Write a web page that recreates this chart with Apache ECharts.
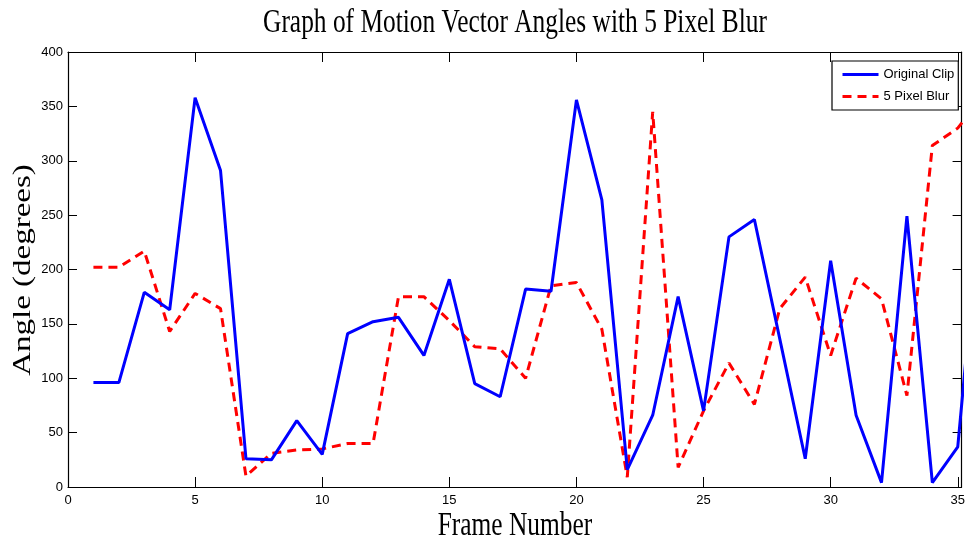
<!DOCTYPE html>
<html>
<head>
<meta charset="utf-8">
<title>Graph of Motion Vector Angles with 5 Pixel Blur</title>
<script src="https://cdn.jsdelivr.net/npm/echarts@6/dist/echarts.min.js"></script>
<style>
  html, body { margin: 0; padding: 0; background: #ffffff; }
  #chart { width: 968px; height: 548px; }
</style>
</head>
<body>
<div id="chart"></div>
<script>
// Frame numbers and the measured motion vector angle (degrees) per frame
const frames = [1, 2, 3, 4, 5, 6, 7, 8, 9, 10, 11, 12, 13, 14, 15, 16, 17, 18,
                19, 20, 21, 22, 23, 24, 25, 26, 27, 28, 29, 30, 31, 32, 33, 34, 35, 36];
const originalClip = [96, 96, 179, 163, 358, 291, 26, 25, 61, 30, 141, 152, 156, 121, 191, 95, 83, 182,
                      180, 356, 264, 16, 66, 175, 70, 230, 246, 136, 26, 208, 66, 4, 249, 4, 37, 290];
const pixelBlur5 = [202, 202, 217, 143, 178, 164, 10, 31, 34, 35, 40, 40, 175, 175, 153, 129, 127, 100,
                    185, 188, 145, 9, 345, 18, 70, 114, 76, 164, 193, 121, 192, 173, 84, 314, 330, 360];
const seriesNames = ['Original Clip', '5 Pixel Blur'];
const xTickValues = [0, 5, 10, 15, 20, 25, 30, 35];
const yTickValues = [0, 50, 100, 150, 200, 250, 300, 350, 400];

const titleText = 'Graph of Motion Vector Angles with 5 Pixel Blur';
const xAxisTitle = 'Frame Number';
const yAxisTitle = 'Angle (degrees)';

const X_MIN = 0, X_MAX = 35.15, Y_MIN = 0, Y_MAX = 400;
const sans = "'Liberation Sans', Arial, Helvetica, sans-serif";
const serif = "'Liberation Serif', 'Times New Roman', serif";

const pairs = (ys) => frames.map((f, i) => [f, ys[i]]);

const chart = echarts.init(document.getElementById('chart'), null, { renderer: 'canvas' });

const tickLabel = (v) => (xTickValues.indexOf(v) >= 0 ? String(v) : '');
const yTickLabel = (v) => (yTickValues.indexOf(v) >= 0 ? String(v) : '');

const boxLine = { show: true, onZero: false, lineStyle: { color: '#000', width: 1.2 } };

chart.setOption({
  animation: false,
  backgroundColor: '#ffffff',
  grid: { left: 68, right: 5, top: 52, bottom: 61, containLabel: false },
  xAxis: [
    {
      type: 'value', position: 'bottom', min: X_MIN, max: X_MAX, interval: 5,
      axisLine: boxLine,
      axisTick: { show: true, inside: true, length: 10, lineStyle: { color: '#000', width: 1 } },
      axisLabel: { show: true, margin: 7, color: '#000', fontSize: 13, fontFamily: sans,
                   formatter: tickLabel },
      splitLine: { show: false }
    },
    {
      type: 'value', position: 'top', min: X_MIN, max: X_MAX, interval: 5,
      axisLine: boxLine,
      axisTick: { show: true, inside: true, length: 10, lineStyle: { color: '#000', width: 1 } },
      axisLabel: { show: false },
      splitLine: { show: false }
    }
  ],
  yAxis: [
    {
      type: 'value', position: 'left', min: Y_MIN, max: Y_MAX, interval: 50,
      axisLine: boxLine,
      axisTick: { show: true, inside: true, length: 9, lineStyle: { color: '#000', width: 1 } },
      axisLabel: { show: true, margin: 5, color: '#000', fontSize: 13, fontFamily: sans,
                   formatter: yTickLabel },
      splitLine: { show: false }
    },
    {
      type: 'value', position: 'right', min: Y_MIN, max: Y_MAX, interval: 50,
      axisLine: boxLine,
      axisTick: { show: true, inside: true, length: 9, lineStyle: { color: '#000', width: 1 } },
      axisLabel: { show: false },
      splitLine: { show: false }
    }
  ],
  legend: {
    show: true,
    orient: 'vertical',
    left: 832,
    top: 61,
    itemWidth: 36,
    itemHeight: 14,
    itemGap: 9,
    padding: [7, 4, 7, 9],
    backgroundColor: '#ffffff',
    borderColor: '#000',
    borderWidth: 1.2,
    borderRadius: 0,
    // only the line sample is shown in each legend entry, no marker
    itemStyle: { opacity: 0 },
    lineStyle: { width: 3 },
    textStyle: { color: '#000', fontSize: 13, fontFamily: sans },
    data: seriesNames
  },
  series: [
    {
      name: seriesNames[0], type: 'line', xAxisIndex: 0, yAxisIndex: 0,
      data: pairs(originalClip), symbol: 'none', clip: true, z: 3,
      lineStyle: { color: '#0000ff', width: 3, type: 'solid' },
      itemStyle: { color: '#0000ff' }
    },
    {
      name: seriesNames[1], type: 'line', xAxisIndex: 0, yAxisIndex: 0,
      data: pairs(pixelBlur5), symbol: 'none', clip: true, z: 2,
      lineStyle: { color: '#ff0000', width: 3, type: [9, 6] },
      itemStyle: { color: '#ff0000' }
    }
  ],
  graphic: [
    {
      type: 'text', x: 515, y: 23, scaleX: 0.77, silent: true,
      style: { text: titleText, fill: '#000', font: '33px ' + serif, align: 'center', verticalAlign: 'middle' }
    },
    {
      type: 'text', x: 515, y: 526, scaleX: 0.77, silent: true,
      style: { text: xAxisTitle, fill: '#000', font: '33px ' + serif, align: 'center', verticalAlign: 'middle' }
    },
    {
      type: 'text', x: 23, y: 270, rotation: Math.PI / 2, scaleY: 0.77, silent: true,
      style: { text: yAxisTitle, fill: '#000', font: '33px ' + serif, align: 'center', verticalAlign: 'middle' }
    }
  ]
});
</script>
</body>
</html>
